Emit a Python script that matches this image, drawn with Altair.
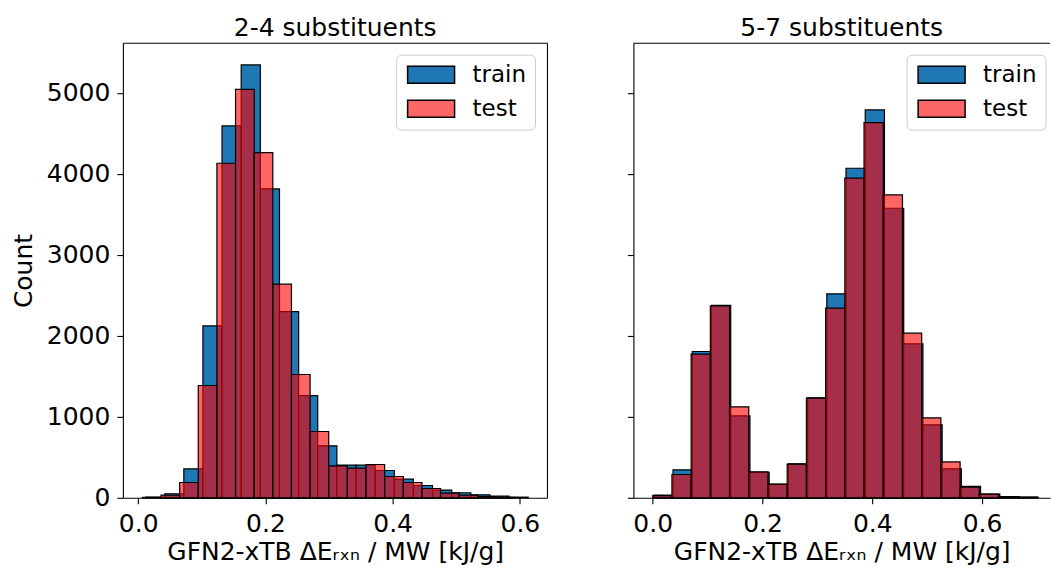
import altair as alt
import pandas as pd

FONT = "DejaVu Sans"

SERIES = ["train", "test"]
COLORS = ["#1f77b4", "rgba(255,0,0,0.6)"]
TITLES = ["2-4 substituents", "5-7 substituents"]
X_TITLE = "GFN2-xTB \u0394E\u1d63\u2093\u2099 / MW [kJ/g]"
X_TICKS = [0.0, 0.2, 0.4, 0.6]
Y_TICKS = [0, 1000, 2000, 3000, 4000, 5000]
Y_MAX = 5614

# ---- panel 1: 2-4 substituents ----
left_train_edges = [0.0115, 0.0416, 0.0717, 0.1017, 0.1318, 0.1619, 0.1920, 0.2221,
                    0.2522, 0.2822, 0.3123, 0.3424, 0.3725, 0.4026, 0.4326, 0.4627,
                    0.4928, 0.5229, 0.5530, 0.5831, 0.6131]
left_train_counts = [10, 50, 358, 2123, 4593, 5346, 3815, 2300, 1263, 642,
                     403, 403, 337, 230, 152, 95, 62, 37, 21, 8]
left_test_edges = [0.0065, 0.0358, 0.0651, 0.0944, 0.1237, 0.1530, 0.1823, 0.2116,
                   0.2409, 0.2702, 0.2995, 0.3288, 0.3581, 0.3874, 0.4167, 0.4460,
                   0.4753, 0.5046, 0.5339, 0.5632, 0.5925]
left_test_counts = [5, 33, 189, 1387, 4132, 5045, 4263, 2638, 1523, 819,
                    395, 366, 411, 263, 189, 115, 58, 33, 16, 5]

# ---- panel 2: 5-7 substituents ----
right_train_edges = [0.0020, 0.0370, 0.0720, 0.1071, 0.1421, 0.1771, 0.2121, 0.2471,
                     0.2822, 0.3172, 0.3522, 0.3872, 0.4222, 0.4573, 0.4923, 0.5273,
                     0.5623, 0.5973, 0.6324, 0.6674, 0.7024]
right_train_counts = [33, 346, 1807, 2376, 1012, 313, 165, 420, 1235, 2519,
                      4070, 4790, 3576, 1901, 901, 358, 140, 45, 16, 8]
right_test_edges = [0.000, 0.035, 0.070, 0.105, 0.140, 0.175, 0.210, 0.245,
                    0.280, 0.315, 0.350, 0.385, 0.420, 0.455, 0.490, 0.525,
                    0.560, 0.595, 0.630, 0.665, 0.700]
right_test_counts = [28, 288, 1774, 2370, 1123, 321, 169, 415, 1230, 2342,
                     3947, 4634, 3741, 2033, 988, 444, 130, 45, 14, 8]

LEFT_DOMAIN = [-0.0241, 0.6434]
RIGHT_DOMAIN = [-0.0352, 0.7238]
LEFT_W = 425
RIGHT_W = 417
H = 455


def make_df(edges, counts, series):
    return pd.DataFrame({
        "start": edges[:-1],
        "end": edges[1:],
        "count": counts,
        "series": [series] * len(counts),
    })


def panel(train_df, test_df, title, x_domain, width, left):
    xscale = alt.Scale(domain=x_domain, nice=False, zero=False)
    yscale = alt.Scale(domain=[0, Y_MAX], nice=False, zero=True)
    fscale = alt.Scale(domain=SERIES, range=COLORS)
    xaxis = alt.Axis(values=X_TICKS, format=".1f", title=X_TITLE, grid=False,
                     tickSize=6, labelPadding=8, titlePadding=3,
                     labelFontSize=25, titleFontSize=25, labelFont=FONT, titleFont=FONT,
                     titleFontWeight="normal", labelColor="black", titleColor="black",
                     domainColor="black", tickColor="black", domainWidth=1.1, tickWidth=1.1,
                     labelFlush=False)
    yaxis = alt.Axis(values=Y_TICKS, format="d", labels=left,
                     title="Count" if left else "", grid=False,
                     tickSize=6, labelPadding=7, titlePadding=10,
                     labelFontSize=25, titleFontSize=25, labelFont=FONT, titleFont=FONT,
                     titleFontWeight="normal", labelColor="black", titleColor="black",
                     domainColor="black", tickColor="black", domainWidth=1.1, tickWidth=1.1)
    legend = alt.Legend(title=None, orient="none", legendX=289, legendY=12,
                        symbolType="M-2.765,-1L2.765,-1L2.765,1L-2.765,1Z", symbolSize=289,
                        symbolStrokeColor="black", symbolStrokeWidth=1.5,
                        labelFontSize=23, labelFont=FONT, labelColor="black",
                        labelOffset=30, padding=8, rowPadding=10)

    def bars(df):
        return alt.Chart(df).mark_rect(stroke="black", strokeWidth=1.2).encode(
            x=alt.X("start:Q", scale=xscale, axis=xaxis),
            x2="end:Q",
            y=alt.Y("count:Q", scale=yscale, axis=yaxis),
            y2=alt.datum(0),
            fill=alt.Fill("series:N", scale=fscale, legend=legend),
        )

    one = pd.DataFrame({"a": [0]})
    layers = [bars(train_df), bars(test_df)]
    # legend frame (rounded, light grey, semi-opaque white)
    layers.append(alt.Chart(one).mark_rect(
        fill="white", fillOpacity=0.8, stroke="#cccccc", strokeWidth=1, cornerRadius=5
    ).encode(x=alt.value(274), x2=alt.value(413), y=alt.value(12), y2=alt.value(87)))
    # frame lines
    layers.append(alt.Chart(one).mark_rule(color="black", strokeWidth=1.1).encode(
        x=alt.value(0), x2=alt.value(width), y=alt.value(0)))
    if left:
        layers.append(alt.Chart(one).mark_rule(color="black", strokeWidth=1.1).encode(
            x=alt.value(width), y=alt.value(0), y2=alt.value(H)))
    return alt.layer(*layers).properties(
        width=width, height=H,
        title=alt.TitleParams(text=title, fontSize=25, font=FONT, fontWeight="normal",
                              color="black", offset=2, anchor="middle"),
    )


left_chart = panel(make_df(left_train_edges, left_train_counts, "train"),
                   make_df(left_test_edges, left_test_counts, "test"),
                   TITLES[0], LEFT_DOMAIN, LEFT_W, True)
right_chart = panel(make_df(right_train_edges, right_train_counts, "train"),
                    make_df(right_test_edges, right_test_counts, "test"),
                    TITLES[1], RIGHT_DOMAIN, RIGHT_W, False)

chart = alt.hconcat(left_chart, right_chart, spacing=78).resolve_scale(
    fill="independent"
).properties(
    padding={"left": 11, "top": 15, "right": 0, "bottom": 0},
    background="white",
).configure_view(stroke=None)

chart.save("out.html", embed_options={"renderer": "svg", "actions": False})
